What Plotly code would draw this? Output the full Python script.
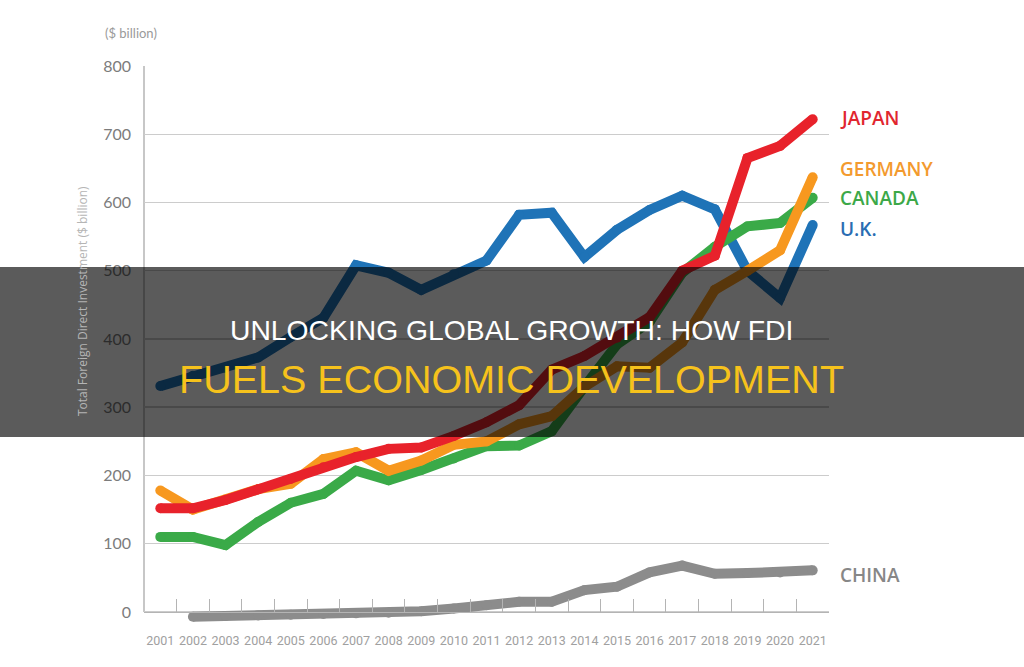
import plotly.graph_objects as go

years = ["2001", "2002", "2003", "2004", "2005", "2006", "2007", "2008", "2009", "2010",
         "2011", "2012", "2013", "2014", "2015", "2016", "2017", "2018", "2019", "2020", "2021"]

japan = [152, 152, 164, 180, 195, 212, 227, 239, 241, 258, 278, 303, 355, 375, 402, 432, 500, 522, 665, 683, 722]
germany = [178, 150, 165, 180, 188, 224, 234, 207, 222, 245, 250, 275, 287, 330, 360, 358, 395, 472, 500, 530, 637]
canada = [110, 110, 98, 132, 160, 173, 207, 193, 208, 225, 243, 244, 265, 330, 392, 425, 497, 535, 565, 570, 607]
uk = [331, 346, 358, 373, 403, 431, 508, 497, 472, 495, 515, 582, 585, 520, 560, 589, 610, 590, 500, 460, 567]
china = [None, -7, -6, -5, -4, -3, -2, -1, 1, 5, 10, 15, 15, 32, 37, 58, 68, 56, 57, 58, 61]

y_ticks = [0, 100, 200, 300, 400, 500, 600, 700, 800]

# draw order bottom -> top
series = [
    ("CHINA", china, "#8c8c8c", 54),
    ("U.K.", uk, "#1f73b7", 561),
    ("CANADA", canada, "#3aaa48", 607),
    ("GERMANY", germany, "#f7981f", 649),
    ("JAPAN", japan, "#e8222b", 724),
]
label_colors = {"JAPAN": "#e1262f", "GERMANY": "#f39a2e", "CANADA": "#3ca848",
                "U.K.": "#2a6db3", "CHINA": "#878787"}

Y_MIN = -22
Y_MAX = 800

fig = go.Figure()
for name, vals, color, _ in series:
    fig.add_trace(go.Scatter(
        x=years, y=vals, mode="lines+markers", name=name,
        line=dict(color=color, width=10),
        marker=dict(color=color, size=10, line=dict(width=0)),
        cliponaxis=False, showlegend=False, hoverinfo="skip",
    ))

annotations = []
for name, vals, color, ly in series:
    annotations.append(dict(
        x=1.0, xref="paper", xshift=9, y=ly, yref="y", xanchor="left", yanchor="middle",
        text=name, showarrow=False,
        font=dict(family="Open Sans", size=19, color=label_colors[name], weight=600),
    ))

annotations.append(dict(
    x=-0.06, xref="paper", y=1.0588, yref="paper", xanchor="left", yanchor="middle",
    text="($ billion)", showarrow=False,
    font=dict(family="Lato", size=13, color="#9a9a9a"),
))
annotations.append(dict(
    x=-0.0905, xref="paper", y=0.581, yref="paper", xanchor="center", yanchor="middle",
    text="Total Foreign Direct Investment ($ billion)", textangle=-90, showarrow=False,
    font=dict(family="Open Sans", size=12, color="#b5b5b5"),
))

# title overlay text
annotations.append(dict(
    x=0.5358, xref="paper", y=0.5294, yref="paper", xanchor="center", yanchor="middle",
    text="UNLOCKING GLOBAL GROWTH: HOW FDI", showarrow=False,
    font=dict(family="Liberation Sans", size=28.3, color="#ffffff"),
))
annotations.append(dict(
    x=0.5358, xref="paper", y=0.442, yref="paper", xanchor="center", yanchor="middle",
    text="FUELS ECONOMIC DEVELOPMENT", showarrow=False,
    font=dict(family="Liberation Sans", size=39.5, color="#f6c21c"),
))

shapes = [
    dict(type="line", xref="paper", yref="y", x0=0, x1=0, y0=0, y1=Y_MAX,
         line=dict(color="#b4b4b4", width=1.5), layer="below"),
    dict(type="rect", xref="paper", yref="paper", x0=-0.5, x1=1.6,
         y0=(627 - 437) / 561, y1=(627 - 267) / 561,
         fillcolor="rgba(0,0,0,0.645)", line=dict(width=0), layer="above"),
]

fig.update_layout(
    width=1024, height=667,
    margin=dict(l=144, r=195, t=66, b=40, autoexpand=False),
    paper_bgcolor="white", plot_bgcolor="white",
    annotations=annotations, shapes=shapes,
    xaxis=dict(
        type="category", range=[-0.5, 20.5], anchor="free",
        position=(0 - Y_MIN) / (Y_MAX - Y_MIN),
        showline=True, linecolor="#b4b4b4", linewidth=1.5,
        ticks="inside", tickson="boundaries", ticklen=13, tickcolor="#b4b4b4", tickwidth=1,
        showgrid=False, zeroline=False, tickangle=0, automargin=False,
        tickfont=dict(family="Roboto", size=12.5, color="#a0a0a0"),
        ticklabelstandoff=17,
    ),
    yaxis=dict(
        range=[Y_MIN, Y_MAX], tickvals=y_ticks, ticktext=[str(v) for v in y_ticks],
        showgrid=True, gridcolor="#cccccc", gridwidth=1.5,
        showline=False, zeroline=False, ticks="", automargin=False,
        tickfont=dict(family="Lato", size=16, color="#7c7c7c"),
        ticklabelstandoff=12,
    ),
)

fig.write_html(
    "out.html",
    config={"displayModeBar": False, "staticPlot": True},
    post_script="document.body.style.margin='0';document.body.style.overflow='hidden';",
)
